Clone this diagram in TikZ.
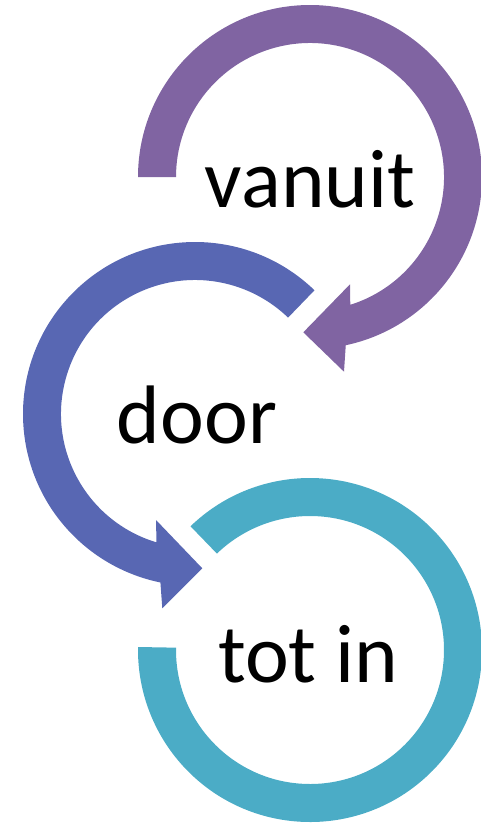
\documentclass[tikz,border=0pt]{standalone}
\usepackage{fontspec}
\setmainfont{Carlito}
\usetikzlibrary{calc}
\definecolor{arcpurple}{RGB}{128,100,162}
\definecolor{arcblue}{RGB}{88,103,179}
\definecolor{arcteal}{RGB}{75,172,198}
\begin{document}
\begin{tikzpicture}[x=1pt,y=-1pt,
  label/.style={anchor=base,inner sep=0pt,font=\fontsize{83}{100}\selectfont}]
\useasboundingbox (0,0) rectangle (481,823);
\coordinate (c1) at (310,177);
\coordinate (c2) at (195,414);
\coordinate (c3) at (310,650);
% purple arc with arrowhead
\fill[arcpurple] ($(c1)+(180:172)$) arc[start angle=180,end angle=438,radius=172]
  -- (344,371.7) -- (303.3,332.3) -- (350,284.3)
  -- ($(c1)+(432.5:134)$) arc[start angle=432.5,end angle=180,radius=134] -- cycle;
% blue arc with arrowhead
\fill[arcblue] ($(c2)+(314:172)$) arc[start angle=314,end angle=101.6,radius=172]
  -- (162.3,608.3) -- (202.3,568.3) -- (156,520)
  -- ($(c2)+(106.7:134)$) arc[start angle=106.7,end angle=314,radius=134] -- cycle;
% teal arc
\fill[arcteal] ($(c3)+(226:172)$) arc[start angle=226,end angle=541,radius=172]
  -- ($(c3)+(541:134)$) arc[start angle=541,end angle=226,radius=134] -- cycle;
\node[label] (t1) at (310,207) {vanuit};
\node[label] (t2) at (197,443) {door};
\node[label] (t3) at (308,682) {tot in};
\end{tikzpicture}
\end{document}
